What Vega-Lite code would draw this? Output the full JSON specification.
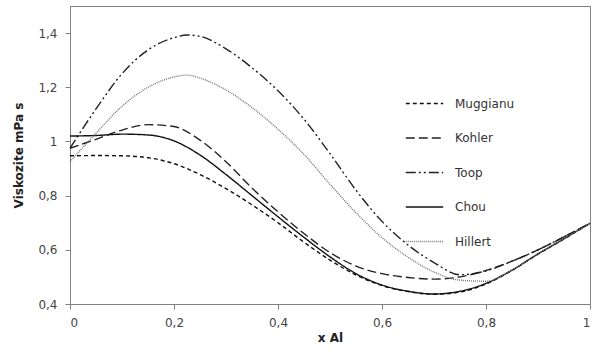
{
  "$schema": "https://vega.github.io/schema/vega-lite/v6.json",
  "width": 520,
  "height": 298,
  "autosize": {"type": "none"},
  "padding": {"left": 70, "top": 6, "right": 4, "bottom": 48},
  "background": "white",
  "config": {
    "view": {"stroke": "#808080", "strokeWidth": 1},
    "font": "DejaVu Sans",
    "legend": {"orient": "none", "legendX": 335, "legendY": 78,
      "symbolType": "stroke", "symbolSize": 1400, "symbolStrokeWidth": 1.4,
      "labelFontSize": 12, "labelColor": "#333", "rowPadding": 8.5, "labelOffset": 11}
  },
  "data": {"values": [
    {"m":"Muggianu","x":0,"y":0.947},{"m":"Muggianu","x":0.05,"y":0.948},{"m":"Muggianu","x":0.1,"y":0.947},{"m":"Muggianu","x":0.15,"y":0.94},{"m":"Muggianu","x":0.2,"y":0.918},{"m":"Muggianu","x":0.25,"y":0.878},{"m":"Muggianu","x":0.3,"y":0.826},{"m":"Muggianu","x":0.35,"y":0.766},{"m":"Muggianu","x":0.4,"y":0.7},{"m":"Muggianu","x":0.45,"y":0.628},{"m":"Muggianu","x":0.5,"y":0.562},{"m":"Muggianu","x":0.55,"y":0.507},{"m":"Muggianu","x":0.6,"y":0.468},{"m":"Muggianu","x":0.65,"y":0.446},{"m":"Muggianu","x":0.7,"y":0.436},{"m":"Muggianu","x":0.75,"y":0.444},{"m":"Muggianu","x":0.8,"y":0.474},{"m":"Muggianu","x":0.85,"y":0.524},{"m":"Muggianu","x":0.9,"y":0.584},{"m":"Muggianu","x":0.95,"y":0.64},{"m":"Muggianu","x":1,"y":0.698},
    {"m":"Kohler","x":0,"y":0.975},{"m":"Kohler","x":0.05,"y":1.008},{"m":"Kohler","x":0.1,"y":1.042},{"m":"Kohler","x":0.15,"y":1.062},{"m":"Kohler","x":0.2,"y":1.055},{"m":"Kohler","x":0.25,"y":1.005},{"m":"Kohler","x":0.3,"y":0.925},{"m":"Kohler","x":0.35,"y":0.828},{"m":"Kohler","x":0.4,"y":0.74},{"m":"Kohler","x":0.45,"y":0.66},{"m":"Kohler","x":0.5,"y":0.59},{"m":"Kohler","x":0.55,"y":0.54},{"m":"Kohler","x":0.6,"y":0.512},{"m":"Kohler","x":0.65,"y":0.498},{"m":"Kohler","x":0.7,"y":0.492},{"m":"Kohler","x":0.75,"y":0.5},{"m":"Kohler","x":0.8,"y":0.524},{"m":"Kohler","x":0.85,"y":0.558},{"m":"Kohler","x":0.9,"y":0.6},{"m":"Kohler","x":0.95,"y":0.648},{"m":"Kohler","x":1,"y":0.698},
    {"m":"Toop","x":0,"y":0.975},{"m":"Toop","x":0.05,"y":1.12},{"m":"Toop","x":0.1,"y":1.25},{"m":"Toop","x":0.15,"y":1.338},{"m":"Toop","x":0.2,"y":1.383},{"m":"Toop","x":0.225,"y":1.393},{"m":"Toop","x":0.25,"y":1.388},{"m":"Toop","x":0.3,"y":1.342},{"m":"Toop","x":0.35,"y":1.272},{"m":"Toop","x":0.4,"y":1.187},{"m":"Toop","x":0.45,"y":1.082},{"m":"Toop","x":0.5,"y":0.955},{"m":"Toop","x":0.55,"y":0.82},{"m":"Toop","x":0.6,"y":0.705},{"m":"Toop","x":0.65,"y":0.618},{"m":"Toop","x":0.7,"y":0.553},{"m":"Toop","x":0.75,"y":0.508},{"m":"Toop","x":0.8,"y":0.522},{"m":"Toop","x":0.85,"y":0.558},{"m":"Toop","x":0.9,"y":0.6},{"m":"Toop","x":0.95,"y":0.648},{"m":"Toop","x":1,"y":0.698},
    {"m":"Chou","x":0,"y":1.02},{"m":"Chou","x":0.05,"y":1.022},{"m":"Chou","x":0.1,"y":1.027},{"m":"Chou","x":0.15,"y":1.024},{"m":"Chou","x":0.2,"y":1.002},{"m":"Chou","x":0.25,"y":0.95},{"m":"Chou","x":0.3,"y":0.878},{"m":"Chou","x":0.35,"y":0.8},{"m":"Chou","x":0.4,"y":0.722},{"m":"Chou","x":0.45,"y":0.646},{"m":"Chou","x":0.5,"y":0.574},{"m":"Chou","x":0.55,"y":0.512},{"m":"Chou","x":0.6,"y":0.47},{"m":"Chou","x":0.65,"y":0.447},{"m":"Chou","x":0.7,"y":0.437},{"m":"Chou","x":0.75,"y":0.447},{"m":"Chou","x":0.8,"y":0.476},{"m":"Chou","x":0.85,"y":0.525},{"m":"Chou","x":0.9,"y":0.585},{"m":"Chou","x":0.95,"y":0.641},{"m":"Chou","x":1,"y":0.698},
    {"m":"Hillert","x":0,"y":0.925},{"m":"Hillert","x":0.05,"y":1.03},{"m":"Hillert","x":0.1,"y":1.13},{"m":"Hillert","x":0.15,"y":1.2},{"m":"Hillert","x":0.2,"y":1.238},{"m":"Hillert","x":0.225,"y":1.245},{"m":"Hillert","x":0.25,"y":1.234},{"m":"Hillert","x":0.3,"y":1.19},{"m":"Hillert","x":0.35,"y":1.125},{"m":"Hillert","x":0.4,"y":1.045},{"m":"Hillert","x":0.45,"y":0.952},{"m":"Hillert","x":0.5,"y":0.842},{"m":"Hillert","x":0.55,"y":0.737},{"m":"Hillert","x":0.6,"y":0.645},{"m":"Hillert","x":0.65,"y":0.573},{"m":"Hillert","x":0.7,"y":0.518},{"m":"Hillert","x":0.75,"y":0.488},{"m":"Hillert","x":0.8,"y":0.484},{"m":"Hillert","x":0.85,"y":0.526},{"m":"Hillert","x":0.9,"y":0.585},{"m":"Hillert","x":0.95,"y":0.641},{"m":"Hillert","x":1,"y":0.698}
  ]},
  "mark": {"type": "line", "interpolate": "monotone", "strokeWidth": 1.4},
  "encoding": {
    "x": {"field": "x", "type": "quantitative",
      "scale": {"domain": [0, 1], "nice": false},
      "axis": {"values": [0, 0.2, 0.4, 0.6, 0.8, 1], "format": "~g", "labelExpr": "replace(datum.label, '.', ',')",
        "grid": false, "title": "x Al", "titleFontWeight": "bold", "titleFontSize": 12, "titleColor": "#222",
        "titlePadding": 4, "labelFontSize": 12, "labelColor": "#444", "labelPadding": 8,
        "tickSize": 5, "domainColor": "#808080", "tickColor": "#808080"}},
    "y": {"field": "y", "type": "quantitative",
      "scale": {"domain": [0.4, 1.5], "nice": false, "zero": false},
      "axis": {"values": [0.4, 0.6, 0.8, 1, 1.2, 1.4], "format": "~g", "labelExpr": "replace(datum.label, '.', ',')",
        "grid": false, "title": "Viskozite mPa s", "titleFontWeight": "bold", "titleFontSize": 12, "titleColor": "#222",
        "titlePadding": 12, "labelFontSize": 12, "labelColor": "#444", "labelPadding": 8,
        "tickSize": 5, "domainColor": "#808080", "tickColor": "#808080"}},
    "strokeDash": {"field": "m", "type": "nominal",
      "scale": {"domain": ["Muggianu", "Kohler", "Toop", "Chou", "Hillert"],
        "range": [[4, 3], [9, 4], [10, 3, 2, 3, 2, 3], [1, 0], [1, 1]]},
      "legend": {"title": null}},
    "color": {"field": "m", "type": "nominal",
      "scale": {"domain": ["Muggianu", "Kohler", "Toop", "Chou", "Hillert"],
        "range": ["#111111", "#222222", "#222222", "#111111", "#777777"]},
      "legend": {"title": null}}
  }
}
